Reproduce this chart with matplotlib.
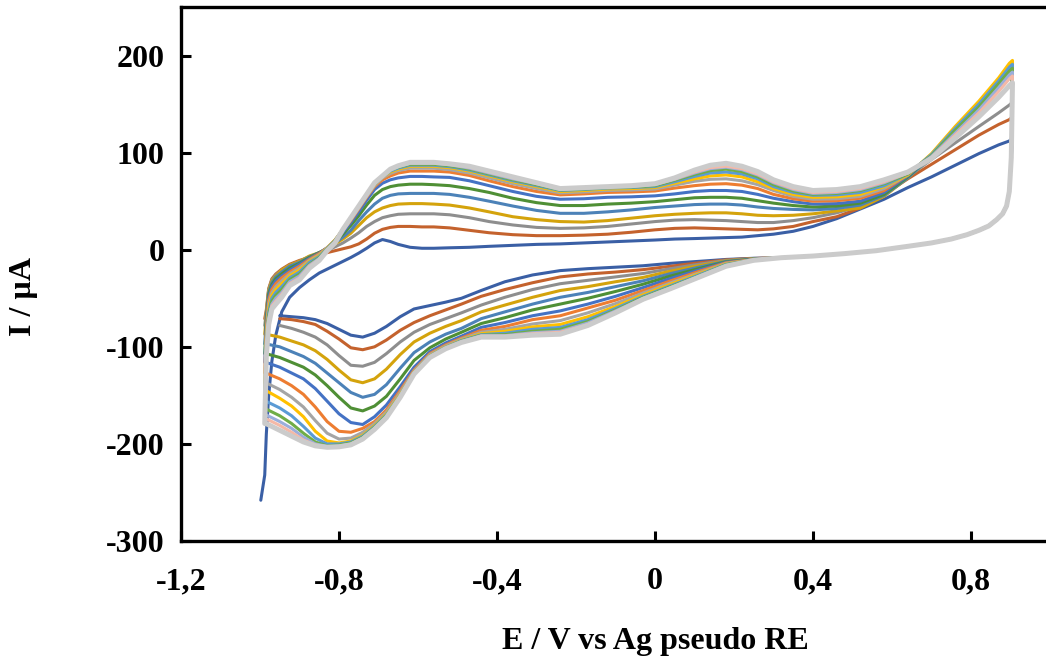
import numpy as np
import matplotlib.pyplot as plt

plt.rcParams['font.family'] = ['Liberation Serif', 'DejaVu Serif']
plt.rcParams['font.weight'] = 'bold'

nan = np.nan

# potential grids (V vs Ag pseudo RE)
E_fwd = [-0.988, -0.984, -0.978, -0.97, -0.96, -0.945, -0.925, -0.90, -0.875, -0.85,
         -0.83, -0.81, -0.79, -0.77, -0.75, -0.73, -0.71, -0.69, -0.67, -0.65,
         -0.62, -0.59, -0.56, -0.52, -0.47, -0.42, -0.36, -0.30, -0.24, -0.18,
         -0.12, -0.06, 0.0, 0.05, 0.10, 0.14, 0.18, 0.22, 0.26, 0.30,
         0.35, 0.40, 0.46, 0.52, 0.58, 0.64, 0.70, 0.76, 0.82, 0.87,
         0.897]
E_rev = [0.905, 0.902, 0.897, 0.89, 0.88, 0.865, 0.845, 0.82, 0.79, 0.75,
         0.70, 0.64, 0.56, 0.48, 0.40, 0.32,
         0.25, 0.18, 0.11, 0.04, -0.03, -0.10, -0.17, -0.24, -0.31, -0.38,
         -0.44, -0.49, -0.53, -0.57, -0.61, -0.645, -0.68, -0.71, -0.74, -0.77,
         -0.80, -0.83, -0.86, -0.89, -0.92, -0.95, -0.985]

# first cycle starts a little further out
E_start1, I_start1 = -0.998, -258

# current (uA), anodic sweep, one list per cycle
fwd1 = [-232, -190, -150, -115, -88, -64, -49, -39, -31, -24, -20, -16, -12, -8, -3.5, 1.5, 7, 10.5, 8.5, 5.5,
        2.5, 1.5, 1.5, 2, 2.5, 3.5, 4.5, 5.5, 6, 7, 8, 9, 10, 11, 11.5, 12, 12.5, 13, 14.5, 16,
        19, 24, 32, 42, 52, 64, 75, 87, 99, 108, 112]
fwd2 = [-71, -62, -40, -30, -25, -20, -15, -11, -8, -5.5, -3, -1, 1, 3, 6, 11, 17, 21, 23, 24,
        24, 23.5, 23.5, 22.5, 20, 17.5, 15.5, 14.5, 14.5, 15, 16, 18, 20.5, 22, 22.5, 22, 21.5, 21, 20.5, 21.5,
        24, 29, 34, 43, 57, 73, 88, 103, 118, 129, 134]
fwd3 = [-78, -64, -41, -31, -26, -21, -16, -12, -7, -4, -1, 3, 7, 12, 17.5, 24, 29, 33, 35, 36.5,
        37, 37, 37, 36, 33, 29, 25.5, 23, 22, 22.5, 24, 26.5, 29, 30.5, 31, 30.5, 30, 29, 28, 28,
        30, 33, 38, 45, 58, 75, 93, 110, 127, 141, 149]
fwd4 = [-87, -66, -42, -32, -27, -21, -16, -12, -6.5, -3, 0, 6, 11, 17, 25, 33, 39, 43, 45.5, 47,
        47.5, 47.5, 47, 46, 43, 39, 34, 31, 29, 28.5, 30, 32.5, 35, 36.5, 37.5, 38, 38, 37, 35.5, 35,
        35.5, 37, 40, 43, 55, 74, 96, 121, 147, 170, 184]
fwd5 = [-97, -70, -44, -34, -28, -23, -17, -13, -7.5, -3, 1, 7, 13, 20, 30, 39, 47, 53, 56, 57.5,
        58, 58, 58, 57, 54, 50, 45, 40.5, 37.5, 37.5, 39, 41, 43.5, 45, 46.5, 47, 47, 46, 44, 42.5,
        41.5, 41, 42.5, 46, 56, 74, 96, 122, 148, 171, 186]
fwd6 = [-107, -74, -46, -36, -30, -25, -19, -14, -8, -3, 1.5, 8, 16, 25, 35, 46, 56, 62, 65, 66.5,
        67.5, 67.5, 67, 66, 63, 59, 53, 48.5, 45.5, 45.5, 47, 48, 49.5, 51.5, 53.5, 54, 54, 53, 50.5, 48,
        45.5, 44, 45, 48, 57, 75, 97, 123, 149, 172, 187]
fwd7 = [-116, -78, -49, -38, -32, -27, -21, -15, -9, -3.5, 2, 9, 18, 28, 39, 51, 62, 68.5, 72, 74,
        75.5, 75.5, 75, 74.5, 71, 66, 60, 55, 52, 52.5, 54, 54.5, 55.5, 57.5, 60, 61, 61, 60, 57, 53,
        49.5, 47, 47.5, 50, 59, 76, 97, 124, 150, 173, 188]
fwd8 = [-127, -82, -52, -41, -35, -29, -23, -17, -10, -4, 2, 10, 20, 30, 42, 54, 65, 72, 76, 79,
        81, 81, 81, 80, 76.5, 71, 65, 60, 56.5, 57.5, 59, 59.5, 60.5, 63.5, 66, 67.5, 68, 66.5, 63, 57,
        52.5, 50, 50.5, 53, 61, 77, 98, 126, 152, 175, 190]
fwd9 = [-137, -86, -56, -44, -38, -32, -25, -19, -11, -5, 2, 10, 20, 31, 43, 55, 66, 74, 78.5, 81.5,
        84, 84, 84, 82.5, 79, 74, 68, 63, 58.5, 59.5, 61, 61.5, 62.5, 66.5, 70.5, 72.5, 73, 71, 67, 61,
        55, 52, 52.5, 55, 63, 77, 98, 125, 151, 174, 189]
fwd10 = [-145, -90, -60, -47, -41, -35, -27, -21, -12, -6, 1.5, 10, 21, 32, 44, 56, 67, 75, 80, 83,
         86, 86, 86, 84.5, 81, 76, 70, 65, 60, 61, 62.5, 63, 64, 68.5, 73, 76, 77, 75, 70, 63,
         57, 54, 54.5, 57, 65, 77, 99, 127, 153, 177, 192]
fwd11 = [-156, -95, -64, -50, -44, -38, -29, -23, -13, -7, 1, 9.5, 21, 32, 44, 56, 67.5, 75, 81, 84,
         87, 87, 87, 85.5, 82, 77, 71, 66, 61, 62, 63.5, 64, 65, 70, 75.5, 79, 80, 78, 73, 65,
         59, 56, 56.5, 59, 66, 78, 98, 125, 150, 174, 188]
fwd12 = [-164, -100, -68, -53, -47, -41, -31, -25, -15, -8, 0.5, 9, 21, 32, 45, 57, 68, 76, 82, 85,
         88, 88, 88, 86.5, 83, 78, 72, 67, 61.5, 62.5, 64, 64.5, 66, 71.5, 77.5, 81.5, 83, 80.5, 75, 67,
         60.5, 57, 58, 61, 68, 78, 97, 123, 147, 171, 184]
fwd13 = [-170, -104, -71, -56, -50, -44, -33, -27, -16, -9, 0, 8.5, 21, 33, 45, 57, 68.5, 76, 82, 85.5,
         89, 89, 89, 87.5, 84, 79, 73, 68, 62, 63, 64.5, 65, 67, 72.5, 79, 83.5, 85, 82.5, 77, 69,
         62, 58, 59, 62, 69, 79, 96, 120, 144, 167, 180]
fwd14 = [-174, -107, -74, -58, -53, -46, -35, -29, -17, -10, -0.5, 8, 21, 33, 45, 57, 68.5, 76, 82.5, 86,
         89.5, 89.5, 89.5, 88, 85, 80, 74, 68.5, 62.5, 63.5, 65, 65.5, 67.5, 73, 80, 84.5, 86, 83.5, 78, 70,
         63, 59, 60, 63, 70, 79, 95, 118, 141, 163, 176]
fwd15 = [-179, -110, -77, -61, -56, -49, -37, -31, -19, -11, -1, 7, 21, 33, 45, 57, 69, 76, 83, 86.5,
         90, 90, 90, 88.5, 86, 81, 75, 69, 63, 64, 65, 66, 68, 74, 82, 87, 89, 86, 80.5, 72,
         65, 61, 62, 65, 72, 80, 94, 115, 137, 157, 169]

# cathodic sweep, 0.902 .. 0.32 V: all cycles lie on top of each other
rev_top = [95, 60, 45, 37, 31, 24.5, 20, 15.5, 11, 7, 3.5, -1, -4, -6.5, -8.2]

rev1 = [115] + rev_top + [-8.8, -10, -12, -14, -16.5, -18, -19.5, -21.5, -26, -33, -42, -50, -54, -57.5,
                          -61, -69, -79, -86, -90, -88, -82, -76, -72, -70, -69, -68, nan]
rev2 = [137] + rev_top + [-9, -10.5, -13.5, -17, -20.5, -23, -25, -28, -34, -41, -48, -56, -62, -68,
                          -75, -83, -93, -100, -103, -101, -92, -84, -77, -74, -72, -71, nan]
rev3 = [152] + rev_top + [-9.2, -11, -15, -19.5, -24.5, -28, -31.5, -35, -41, -49, -57, -65, -71, -77,
                          -85, -95, -107, -116, -120, -119, -109, -98, -90, -85, -81, -78, nan]
rev4 = [187] + rev_top + [-9.4, -11.5, -16.5, -22, -28.5, -33, -38, -42, -49, -57, -64, -73, -79, -86,
                          -95, -108, -123, -133, -137, -134, -124, -113, -104, -98, -94, -90, -87]
rev5 = [189] + rev_top + [-9.6, -12, -18, -24.5, -32, -38, -44, -49, -56, -64, -71, -81, -87, -95,
                          -106, -122, -139, -149, -152, -147, -137, -127, -117, -110, -105, -100, -97]
rev6 = [190] + rev_top + [-9.8, -12.5, -19.5, -27, -35.5, -43, -50, -56, -62, -70, -76, -85, -92, -101,
                          -114, -133, -151, -161, -166, -163, -152, -140, -129, -121, -116, -111, -107]
rev7 = [191] + rev_top + [-10, -13, -21, -29.5, -39, -48, -56, -63, -68, -75, -80, -89, -96, -105,
                          -121, -141, -160, -172, -180, -178, -169, -156, -143, -133, -127, -121, -116]
rev8 = [193] + rev_top + [-10.2, -13.5, -22.5, -32, -42, -52, -60, -68, -72, -79, -83, -91, -98, -107,
                          -124, -145, -165, -177, -184, -188, -187, -177, -162, -149, -140, -133, -127]
rev9 = [192] + rev_top + [-10.3, -14, -24, -34, -44.5, -55.5, -65, -73, -76.5, -82, -85, -92, -99, -108,
                          -125, -147, -167, -179, -188, -194, -195, -189, -176, -162, -152, -144, -137]
rev10 = [195] + rev_top + [-10.4, -14.5, -25, -35.5, -46.5, -58.5, -69, -77, -79.5, -84, -86.5, -93, -100, -109,
                           -126, -149, -169, -181, -191, -197, -199, -197, -187, -172, -161, -153, -145]
rev11 = [191] + rev_top + [-10.5, -15, -26, -37, -48, -60.5, -72, -80, -82, -86, -87.5, -93.5, -100.5, -109.5,
                           -126.5, -150, -170, -182, -192, -198, -200, -200, -194, -182, -171, -163, -156]
rev12 = [187] + rev_top + [-10.6, -15.5, -27, -38, -49, -62, -74, -82, -84, -87.5, -88, -94, -101, -110,
                           -127, -150.5, -171, -183, -193, -199, -201, -202, -198, -189, -179, -171, -164]
rev13 = [183] + rev_top + [-10.7, -16, -27.5, -39, -50, -63, -75.5, -84, -85.5, -88.5, -88.5, -94.5, -101, -110,
                           -127, -151, -172, -184, -194, -200, -202, -202.5, -200, -193, -184, -177, -170]
rev14 = [179] + rev_top + [-10.8, -16.5, -28, -39.5, -50.5, -64, -77, -85, -86.5, -89, -89, -95, -101.5, -110.5,
                           -127.5, -151.5, -172.5, -184.5, -194.5, -200.5, -202.5, -203, -201, -196, -188, -181, -174]
rev15 = [172] + rev_top + [-10.9, -17, -28.5, -40, -51, -65, -78, -87, -88, -90, -90, -95.5, -102, -111,
                           -128, -152, -173, -185, -195, -201, -203, -203.5, -202, -198, -192, -186, -179]

forward = [fwd1, fwd2, fwd3, fwd4, fwd5, fwd6, fwd7, fwd8, fwd9, fwd10, fwd11, fwd12, fwd13, fwd14, fwd15]
reverse = [rev1, rev2, rev3, rev4, rev5, rev6, rev7, rev8, rev9, rev10, rev11, rev12, rev13, rev14, rev15]
colors = ['#3A5FA5', '#C4622D', '#8E8E8E', '#D4A30C', '#4C82B8', '#4F8F35', '#4472C4', '#ED7D31',
          '#A5A5A5', '#FFC000', '#5B9BD5', '#70AD47', '#9AAEDB', '#F4B9A7', '#CBCBCB']

fig = plt.figure(figsize=(10.46, 6.66), dpi=100)
ax = fig.add_axes([181 / 1046, 125 / 666, 869 / 1046, 534 / 666])

for k, (f, r, c) in enumerate(zip(forward, reverse, colors)):
    E = E_fwd + E_rev
    I = f + r
    if k == 0:
        E = [E_start1] + E
        I = [I_start1] + I
    lw = 3.6 if k == len(colors) - 1 else 2.2
    ax.plot(E, np.array(I, dtype=float), color=c, lw=lw,
            solid_joinstyle='round', solid_capstyle='round')

ax.set_xlim(-1.2, 1.0)
ax.set_ylim(-300, 250)
ax.set_xticks([-1.2, -0.8, -0.4, 0, 0.4, 0.8])
ax.set_xticklabels(['-1,2', '-0,8', '-0,4', '0', '0,4', '0,8'])
ax.set_yticks([-300, -200, -100, 0, 100, 200])
ax.set_yticklabels(['-300', '-200', '-100', '0', '100', '200'])
ax.tick_params(direction='in', length=7, width=2.2, labelsize=23)
ax.tick_params(axis='x', pad=19)
ax.tick_params(axis='y', pad=12)
for s in ['left', 'bottom', 'top']:
    ax.spines[s].set_linewidth(2.4)
ax.spines['right'].set_visible(False)

fig.text(655 / 1046, 1 - 641 / 666, 'E / V vs Ag pseudo RE', ha='center', va='center',
         fontsize=23, fontweight='bold')
fig.text(23 / 1046, 1 - 297 / 666, 'I / µA', ha='center', va='center', rotation=90,
         fontsize=23, fontweight='bold')

fig.savefig('out.png', dpi=100)
